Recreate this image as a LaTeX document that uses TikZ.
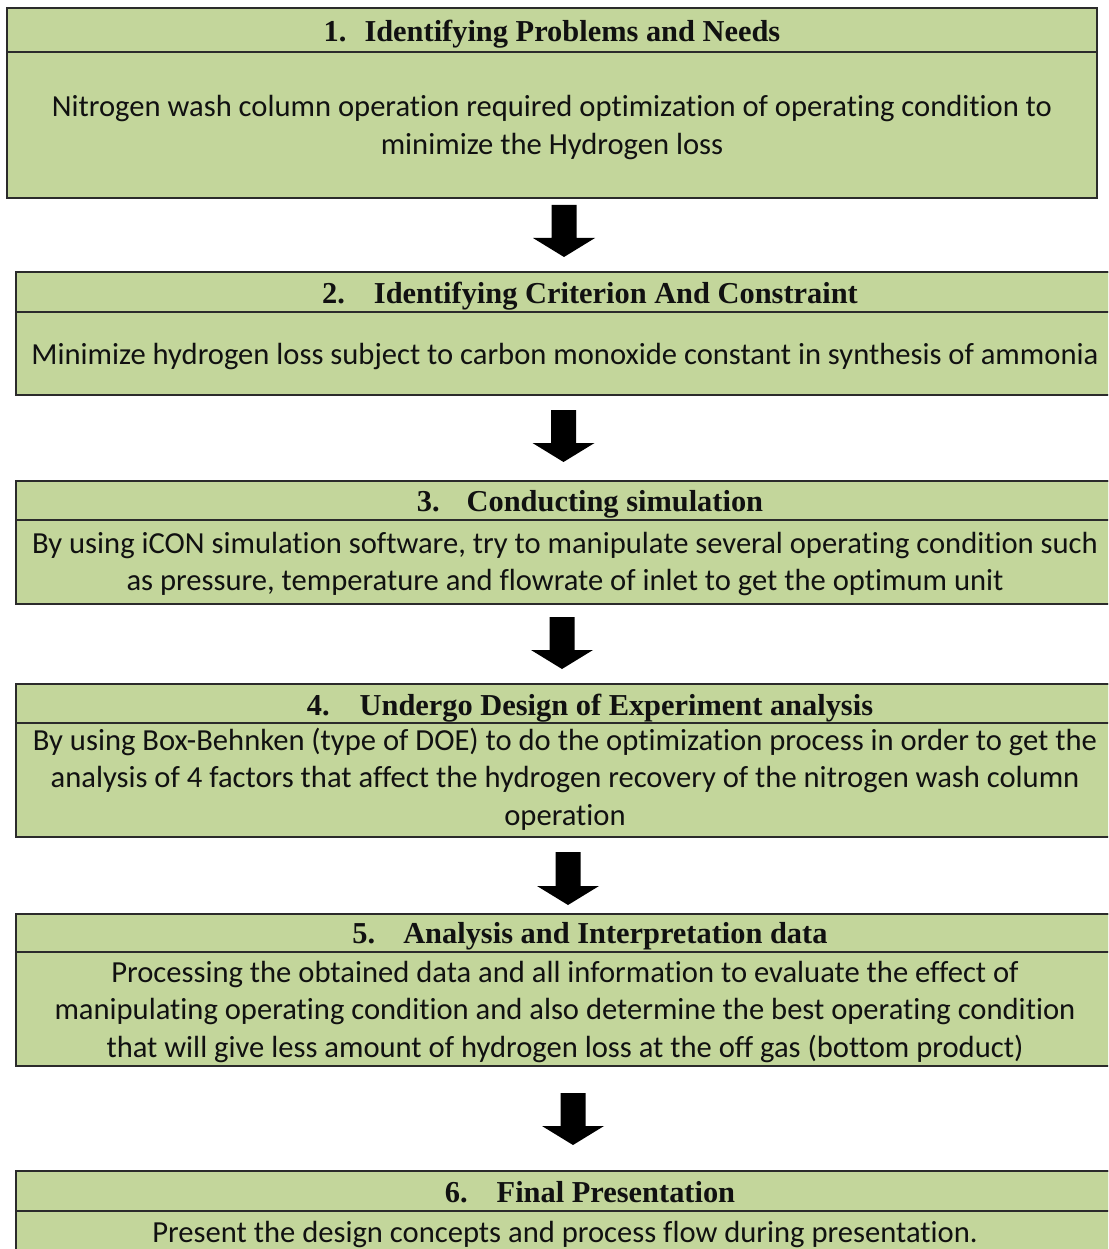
\documentclass[tikz,border=0pt]{standalone}
\usepackage{fontspec}
\usetikzlibrary{calc}
\setmainfont[Ligatures=NoCommon]{Carlito}
\newfontfamily\headfont{Liberation Serif}
\definecolor{boxgreen}{HTML}{C3D69B}
\definecolor{framegray}{HTML}{2B2B2B}
\definecolor{inkblack}{HTML}{111111}
% Block arrow pointing down: name, x, top, tip
\newcommand{\stepdownarrow}[4]{%
  \coordinate (#1) at (#2,#3);
  \coordinate (#1-tip) at (#2,#4);
  \fill[blockarrow] ($(#1)+(-12.5,0)$) -- ($(#1)+(12.5,0)$) -- ($(#1-tip)+(12.5,-19)$)
     -- ($(#1-tip)+(31,-19)$) -- (#1-tip) -- ($(#1-tip)+(-31,-19)$)
     -- ($(#1-tip)+(-12.5,-19)$) -- cycle;}
\begin{document}
\begin{tikzpicture}[x=1pt,y=-1pt,
  stepframe/.style={draw=framegray, line width=1.6pt, fill=boxgreen},
  headtext/.style={font=\headfont\bfseries\fontsize{30.4}{34}\selectfont, text=inkblack, inner sep=0pt, anchor=base},
  bodytext/.style={font=\fontsize{30.6}{37.5}\selectfont, text=inkblack, align=center, inner sep=0pt, anchor=base},
  blockarrow/.style={fill=black, draw=none}]

\useasboundingbox (0,0) rectangle (1108,1249);
\clip (0,0) rectangle (1108,1249);

% body nodes are placed by the baseline of their last line

% 1
\draw[stepframe] (7,8) rectangle (1097,198);
\draw[stepframe] (7,8) rectangle (1097,52);
\node[headtext] (h1) at (552,42) {1.\hspace{18pt}Identifying Problems and Needs};
\node[bodytext] (b1) at (552,154.5) {Nitrogen wash column operation required optimization of operating condition to\\minimize the Hydrogen loss};

% 2
\draw[stepframe] (16,272) rectangle (1114,395);
\draw[stepframe] (16,272) rectangle (1114,312);
\node[headtext] (h2) at (590,303) {2.\hspace{29pt}Identifying Criterion And Constraint};
\node[bodytext] (b2) at (565,364) {Minimize hydrogen loss subject to carbon monoxide constant in synthesis of ammonia};

% 3
\draw[stepframe] (16,481) rectangle (1114,604);
\draw[stepframe] (16,481) rectangle (1114,520);
\node[headtext] (h3) at (590,511) {3.\hspace{27pt}Conducting simulation};
\node[bodytext] (b3) at (565,590.5) {By using iCON simulation software, try to manipulate several operating condition such\\as pressure, temperature and flowrate of inlet to get the optimum unit};

% 4
\draw[stepframe] (16,684) rectangle (1114,837);
\draw[stepframe] (16,684) rectangle (1114,723);
\node[headtext] (h4) at (590,715) {4.\hspace{30pt}Undergo Design of Experiment analysis};
\node[bodytext] (b4) at (565,825) {By using Box-Behnken (type of DOE) to do the optimization process in order to get the\\analysis of 4 factors that affect the hydrogen recovery of the nitrogen wash column\\operation};

% 5
\draw[stepframe] (16,914) rectangle (1114,1066);
\draw[stepframe] (16,914) rectangle (1114,952);
\node[headtext] (h5) at (590,943) {5.\hspace{28pt}Analysis and Interpretation data};
\node[bodytext] (b5) at (565,1057) {Processing the obtained data and all information to evaluate the effect of\\manipulating operating condition and also determine the best operating condition\\that will give less amount of hydrogen loss at the off gas (bottom product)};

% 6
\draw[stepframe] (16,1171) rectangle (1114,1275);
\draw[stepframe] (16,1171) rectangle (1114,1211);
\node[headtext] (h6) at (590,1202) {6.\hspace{29pt}Final Presentation};
\node[bodytext] (b6) at (565,1242) {Present the design concepts and process flow during presentation.};

% flow arrows between the steps
\stepdownarrow{a12}{564}{205}{257}
\stepdownarrow{a23}{563.5}{410}{462}
\stepdownarrow{a34}{562}{617}{669}
\stepdownarrow{a45}{568}{852}{905}
\stepdownarrow{a56}{573}{1093}{1145}

\end{tikzpicture}
\end{document}
